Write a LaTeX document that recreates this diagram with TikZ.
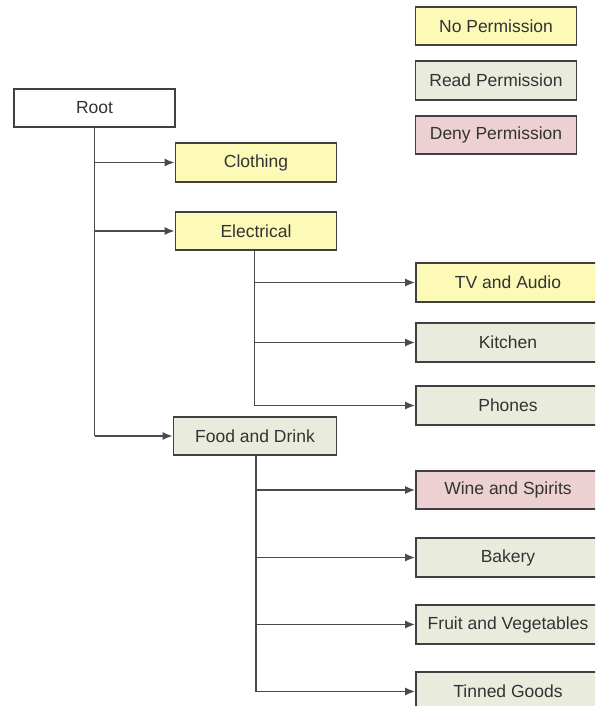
\documentclass[tikz,border=0pt]{standalone}
\usepackage{fontspec}
\setmainfont{Liberation Sans}
\usetikzlibrary{arrows.meta}
\definecolor{nofill}{HTML}{FCFAB6}
\definecolor{readfill}{HTML}{E9ECDC}
\definecolor{denyfill}{HTML}{EDD0D1}
\definecolor{edge}{HTML}{404040}
\definecolor{wire}{HTML}{4A4A4A}
\definecolor{txt}{HTML}{333333}
\tikzset{
  box/.style={draw=edge, line width=1.6pt, inner sep=0pt, minimum height=38.5pt,
              text=txt, font=\fontsize{17.5}{20}\selectfont},
  sbox/.style={box, minimum width=161pt},
  wbox/.style={box, minimum width=184pt},
  noperm/.style={fill=nofill},
  readperm/.style={fill=readfill},
  denyperm/.style={fill=denyfill},
  trunk/.style={draw=wire, line width=1.8pt},
  link/.style={draw=wire, line width=1.8pt, -{Latex[length=10pt,width=8pt]}}
}
\begin{document}
\begin{tikzpicture}[x=1pt, y=-1pt]
\useasboundingbox (0,0) rectangle (595,706);
\clip (0,0) rectangle (595,706);
\fill[white] (0,0) rectangle (595,706);

% legend
\node[sbox, noperm]   (lno)   at (496,26)    {No Permission};
\node[sbox, readperm] (lread) at (496,80.5)  {Read Permission};
\node[sbox, denyperm] (ldeny) at (496,135)   {Deny Permission};

% tree
\node[sbox, fill=white] (root) at (94.5,108)  {Root};
\node[sbox, noperm]   (cloth) at (256,162.5)  {Clothing};
\node[sbox, noperm]   (elec)  at (256,231)    {Electrical};
\node[sbox, readperm, minimum width=163pt] (food) at (255,436) {Food and Drink};

\node[wbox, noperm]   (tv)     at (508,282.5) {TV and Audio};
\node[wbox, readperm] (kitch)  at (508,342.5) {Kitchen};
\node[wbox, readperm] (phones) at (508,405.5) {Phones};
\node[wbox, denyperm] (wine)   at (508,490)   {Wine and Spirits};
\node[wbox, readperm] (bakery) at (508,557.5) {Bakery};
\node[wbox, readperm] (fruit)  at (508,624.5) {Fruit and Vegetables};
\node[wbox, readperm] (tinned) at (508,691.5) {Tinned Goods};

% branch points on each trunk
\coordinate (rt) at ([xshift=0pt]root.south);
\coordinate (et) at ([xshift=-1.5pt]elec.south);
\coordinate (ft) at ([xshift=1pt]food.south);

% trunks
\draw[trunk] (rt) -- (rt |- food.west);
\draw[trunk] (et) -- (et |- phones.west);
\draw[trunk] (ft) -- (ft |- tinned.west);

% branches
\foreach \child in {cloth, elec, food}
  \draw[link] (rt |- \child.west) -- (\child.west);
\foreach \child in {tv, kitch, phones}
  \draw[link] (et |- \child.west) -- (\child.west);
\foreach \child in {wine, bakery, fruit, tinned}
  \draw[link] (ft |- \child.west) -- (\child.west);
\end{tikzpicture}
\end{document}
